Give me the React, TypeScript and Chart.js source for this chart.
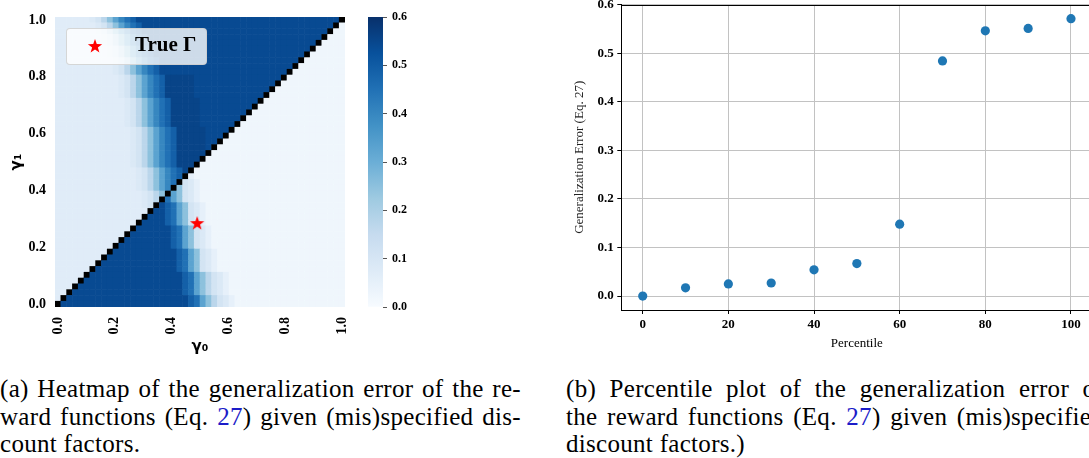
import React, { useEffect, useRef } from "react";
import { Chart, registerables } from "chart.js";

Chart.register(...registerables);

// ---------------- data: heatmap (generalization error vs. discount factors) ----------------
const GRID_N = 50;
const GAMMA_TICKS = [0.0, 0.2, 0.4, 0.6, 0.8, 1.0];
const ERROR_SCALE_TICKS = [0.0, 0.1, 0.2, 0.3, 0.4, 0.5, 0.6];
const ERROR_SCALE_MIN = 0.0;
const ERROR_SCALE_MAX = 0.6;
const TRUE_GAMMA0 = [0.49];
const TRUE_GAMMA1 = [0.285];
const LEVEL_CODES = ["0", "1", "2", "3", "4", "5", "6", "7", "8", "9", "A", "B", "C"];
const LEVEL_VALUES = [0.025, 0.05, 0.07, 0.085, 0.11, 0.17, 0.25, 0.33, 0.4, 0.45, 0.49, 0.54, 0.555];
const DIAGONAL_CODE = "#";
// rows from gamma1 = 1.0 (top) down to gamma1 = 0.0 (bottom); columns gamma0 = 0.0 -> 1.0
const HEAT_ROWS = [
  "2222223456 789ABBBBBB BBBBBBBBBB BBBBBBBBBB BBBBBBBBB#",
  "2222222345 6789ABBBBB BBBBBBBBBB BBBBBBBBBB BBBBBBBB#0",
  "2222222345 6789ABBBBB BBBBBBBBBB BBBBBBBBBB BBBBBBB#00",
  "2222222234 56789ABBBB BBBBBBBBBB BBBBBBBBBB BBBBBB#000",
  "2222222234 56789ABBBB BBBBBBBBBB BBBBBBBBBB BBBBB#0000",
  "2222222223 456789ABBB BBBBBBBBBB BBBBBBBBBB BBBB#00000",
  "2222222223 456789ABBB BBBBBBBBBB BBBBBBBBBB BBB#000000",
  "2222222222 3456789ABB BBBBBBBBBB BBBBBBBBBB BB#0000000",
  "2222222222 3456789ABB BBBBBBBBBB BBBBBBBBBB B#00000000",
  "2222222222 3456789ABB BBBBBBBBBB BBBBBBBBBB #000000000",
  "2222222222 23456789AC CCCCBBBBBB BBBBBBBBB# 0000000000",
  "2222222222 23456789AC CCCCBBBBBB BBBBBBBB#0 0000000000",
  "2222222222 23456789AC CCCCBBBBBB BBBBBBB#00 0000000000",
  "2222222222 23456789AC CCCCBBBBBB BBBBBB#000 0000000000",
  "2222222222 223456789A CCCCCBBBBB BBBBB#0000 0000000000",
  "2222222222 223456789A CCCCCBBBBB BBBB#00000 0000000000",
  "2222222222 223456789A CCCCCBBBBB BBB#000000 0000000000",
  "2222222222 223456789A CCCCCBBBBB BB#0000000 0000000000",
  "2222222222 223456789A CCCCCBBBBB B#00000000 0000000000",
  "2222222222 2223456789 ACCCCCBBBB #000000000 0000000000",
  "2222222222 2223456789 ACCCCCBBB# 0000000000 0000000000",
  "2222222222 2223456789 ACCCCCBB#0 0000000000 0000000000",
  "2222222222 2223456789 ACCCCCB#00 0000000000 0000000000",
  "2222222222 2223456789 ACCCCC#000 0000000000 0000000000",
  "2222222222 2223456789 ACCCC#0000 0000000000 0000000000",
  "2222222222 2223456789 ACCC#00000 0000000000 0000000000",
  "2222222222 2222345678 9AC#000000 0000000000 0000000000",
  "2222222222 2222345678 9A#1000000 0000000000 0000000000",
  "2222222222 2222345678 9#43100000 0000000000 0000000000",
  "2222222222 2222345678 #643100000 0000000000 0000000000",
  "2222222222 222223456# 7643100000 0000000000 0000000000",
  "2222222222 22222345#9 7643100000 0000000000 0000000000",
  "2222222222 2222234#BA 9764310000 0000000000 0000000000",
  "2222222222 222222#BBA 9764310000 0000000000 0000000000",
  "2222222222 22222#BBBA 9764310000 0000000000 0000000000",
  "2222222222 2222#BBBBA 9764310000 0000000000 0000000000",
  "2222222222 222#BBBBBB A976431000 0000000000 0000000000",
  "2222222222 22#BBBBBBB A976431000 0000000000 0000000000",
  "2222222222 2#BBBBBBBB A976431000 0000000000 0000000000",
  "2222222222 #BBBBBBBBB A976431000 0000000000 0000000000",
  "222222222# BBBBBBBBBB BA97643100 0000000000 0000000000",
  "22222222#B BBBBBBBBBB BA97643100 0000000000 0000000000",
  "2222222#BB BBBBBBBBBB BA97643100 0000000000 0000000000",
  "222222#BBB BBBBBBBBBB BA97643100 0000000000 0000000000",
  "22222#BBBB BBBBBBBBBB BBA9765431 0000000000 0000000000",
  "2222#BBBBB BBBBBBBBBB BBA9765431 0000000000 0000000000",
  "222#BBBBBB BBBBBBBBBB BBA9765431 0000000000 0000000000",
  "22#BBBBBBB BBBBBBBBBB BBA9765431 0000000000 0000000000",
  "2#BBBBBBBB BBBBBBBBBB BBBA976543 1000000000 0000000000",
  "#BBBBBBBBB BBBBBBBBBB BBBA976543 1000000000 0000000000",
];

// ---------------- data: percentile plot ----------------
const PERCENTILES = [0, 10, 20, 30, 40, 50, 60, 70, 80, 90, 100];
const GEN_ERROR = [0.0, 0.017, 0.025, 0.027, 0.054, 0.067, 0.148, 0.484, 0.546, 0.551, 0.571];
const PCT_TICKS = [0, 20, 40, 60, 80, 100];
const PCT_AXIS_MIN = -5;
const PCT_AXIS_MAX = 105;
const ERR_TICKS = [0.0, 0.1, 0.2, 0.3, 0.4, 0.5, 0.6];
const ERR_AXIS_MIN = -0.0286;
const ERR_AXIS_MAX = 0.6;

// ---------------- captions ----------------
type Seg = [string, boolean];
const CAPTION_A: Seg[][] = [
  [["(a) Heatmap of the generalization error of the re-", false]],
  [["ward functions (Eq. ", false], ["27", true], [") given (mis)specified dis-", false]],
  [["count factors.", false]],
];
const CAPTION_B: Seg[][] = [
  [["(b) Percentile plot of the generalization error of", false]],
  [["the reward functions (Eq. ", false], ["27", true], [") given (mis)specified", false]],
  [["discount factors.)", false]],
];

// ---------------- styles ----------------
const SERIF = "'Liberation Serif', 'Times New Roman', Times, serif";
const GREEK = "'DejaVu Sans', sans-serif";
const BLUES_STOPS = ["#f7fbff", "#deebf7", "#c6dbef", "#9ecae1", "#6baed6", "#4292c6", "#2171b5", "#08519c", "#08306b"];

function hexRgb(h: string) {
  const n = parseInt(h.slice(1), 16);
  return [(n >> 16) & 255, (n >> 8) & 255, n & 255];
}
function bluesColor(v: number) {
  const t = Math.min(1, Math.max(0, (v - ERROR_SCALE_MIN) / (ERROR_SCALE_MAX - ERROR_SCALE_MIN)));
  const p = t * (BLUES_STOPS.length - 1);
  const i = Math.min(BLUES_STOPS.length - 2, Math.floor(p));
  const f = p - i;
  const a = hexRgb(BLUES_STOPS[i]);
  const b = hexRgb(BLUES_STOPS[i + 1]);
  const c = a.map((x, k) => Math.round(x + (b[k] - x) * f));
  return `rgb(${c[0]},${c[1]},${c[2]})`;
}
function starPoints(cx: number, cy: number, R: number, r: number) {
  const pts: [number, number][] = [];
  for (let i = 0; i < 10; i++) {
    const ang = -Math.PI / 2 + (i * Math.PI) / 5;
    const rr = i % 2 === 0 ? R : r;
    pts.push([cx + rr * Math.cos(ang), cy + rr * Math.sin(ang)]);
  }
  return pts;
}
function makeStarCanvas(size: number, color: string) {
  const c = document.createElement("canvas");
  c.width = size;
  c.height = size;
  const g = c.getContext("2d")!;
  const pts = starPoints(size / 2, size / 2 + 0.5, size / 2 - 0.5, (size / 2 - 0.5) * 0.4);
  g.beginPath();
  pts.forEach(([x, y], i) => (i === 0 ? g.moveTo(x, y) : g.lineTo(x, y)));
  g.closePath();
  g.fillStyle = color;
  g.fill();
  return c;
}

const baseOptions = {
  responsive: false,
  animation: false,
  events: [],
  plugins: { legend: { display: false }, tooltip: { enabled: false } },
};

function HeatmapPanel() {
  const ref = useRef<HTMLCanvasElement>(null);
  useEffect(() => {
    const cells: { x: number; y: number }[] = [];
    const colors: string[] = [];
    HEAT_ROWS.forEach((row, r) => {
      const codes = row.replace(/\s+/g, "");
      const j = GRID_N - 1 - r;
      for (let k = 0; k < GRID_N; k++) {
        const code = codes.charAt(k);
        cells.push({ x: k / (GRID_N - 1), y: j / (GRID_N - 1) });
        colors.push(code === DIAGONAL_CODE ? "#000000" : bluesColor(LEVEL_VALUES[LEVEL_CODES.indexOf(code)]));
      }
    });
    const half = 0.5 / (GRID_N - 1);
    const tickFont = { family: SERIF, size: 14, weight: "bold" };
    const chart = new Chart(ref.current as any, {
      type: "scatter",
      data: {
        datasets: [
          {
            label: "True Γ",
            data: TRUE_GAMMA0.map((g0, i) => ({ x: g0, y: TRUE_GAMMA1[i] })),
            pointStyle: makeStarCanvas(16, "#ff0000"),
            pointRadius: 7,
            order: 0,
          },
          {
            label: "error",
            data: cells,
            pointStyle: "rect",
            pointBackgroundColor: colors,
            pointBorderWidth: 0,
            pointRadius: (ctx: any) => {
              const a = ctx.chart.chartArea;
              const w = a ? (a.right - a.left) / GRID_N : 5.8;
              return (w + 0.6) / Math.SQRT2;
            },
            order: 1,
          },
        ],
      },
      options: {
        ...baseOptions,
        layout: { padding: { left: 0, top: 17, right: 10, bottom: 0 } },
        scales: {
          x: {
            type: "linear",
            min: -half,
            max: 1 + half,
            afterBuildTicks: (s: any) => {
              s.ticks = GAMMA_TICKS.map((v) => ({ value: v }));
            },
            afterFit: (s: any) => {
              s.height = 53;
              s.paddingLeft = 0;
              s.paddingRight = 0;
            },
            ticks: {
              callback: (v: any) => Number(v).toFixed(1),
              font: tickFont,
              color: "#000",
              minRotation: 90,
              maxRotation: 90,
              padding: 10,
              autoSkip: false,
            },
            grid: { display: false, drawTicks: false },
            border: { display: false },
            title: {
              display: true,
              text: "γ₀",
              font: { family: GREEK, size: 15, weight: "bold" },
              color: "#000",
              padding: { top: 0, bottom: 4 },
            },
          },
          y: {
            type: "linear",
            min: -half,
            max: 1 + half,
            afterBuildTicks: (s: any) => {
              s.ticks = GAMMA_TICKS.map((v) => ({ value: v }));
            },
            afterFit: (s: any) => {
              s.width = 55;
              s.paddingTop = 0;
              s.paddingBottom = 0;
            },
            ticks: {
              callback: (v: any) => Number(v).toFixed(1),
              font: tickFont,
              color: "#000",
              padding: 9,
              autoSkip: false,
            },
            grid: { display: false, drawTicks: false },
            border: { display: false },
            title: {
              display: true,
              text: "γ₁",
              font: { family: GREEK, size: 15, weight: "bold" },
              color: "#000",
              padding: { top: 8, bottom: 0 },
            },
          },
        },
      } as any,
    });
    return () => chart.destroy();
  }, []);
  return (
    <canvas
      ref={ref}
      width={355}
      height={360}
      style={{ position: "absolute", left: 0, top: 0, width: 355, height: 360 }}
    />
  );
}

function ColorbarPanel() {
  const ref = useRef<HTMLCanvasElement>(null);
  useEffect(() => {
    const chart = new Chart(ref.current as any, {
      type: "bar",
      data: {
        labels: ["colorbar"],
        datasets: [
          {
            data: [[ERROR_SCALE_MIN, ERROR_SCALE_MAX]],
            backgroundColor: (ctx: any) => {
              const a = ctx.chart.chartArea;
              if (!a) return BLUES_STOPS[4];
              const g = ctx.chart.ctx.createLinearGradient(0, a.bottom, 0, a.top);
              BLUES_STOPS.forEach((c, i) => g.addColorStop(i / (BLUES_STOPS.length - 1), c));
              return g;
            },
            borderWidth: 0,
            barPercentage: 1,
            categoryPercentage: 1,
          },
        ],
      },
      options: {
        ...baseOptions,
        layout: { padding: { left: 13, top: 17, right: 0, bottom: 53 } },
        scales: {
          x: { display: false },
          y: {
            position: "right",
            min: ERROR_SCALE_MIN,
            max: ERROR_SCALE_MAX,
            afterBuildTicks: (s: any) => {
              s.ticks = ERROR_SCALE_TICKS.map((v) => ({ value: v }));
            },
            afterFit: (s: any) => {
              s.width = 62;
              s.paddingTop = 0;
              s.paddingBottom = 0;
            },
            ticks: {
              callback: (v: any) => Number(v).toFixed(1),
              font: { family: SERIF, size: 12, weight: "bold" },
              color: "#000",
              padding: 5,
            },
            grid: { drawOnChartArea: false, drawTicks: true, tickLength: 4, tickColor: "#555", tickWidth: 1 },
            border: { display: false },
          },
        },
      } as any,
    });
    return () => chart.destroy();
  }, []);
  return (
    <canvas
      ref={ref}
      width={90}
      height={360}
      style={{ position: "absolute", left: 355, top: 0, width: 90, height: 360 }}
    />
  );
}

function HeatLegend() {
  const pts = starPoints(8, 8.5, 7.5, 3).map((p) => p.join(",")).join(" ");
  return (
    <>
      <div
        style={{
          position: "absolute",
          left: 66,
          top: 28,
          width: 141,
          height: 37,
          boxSizing: "border-box",
          background: "rgba(255,255,255,0.8)",
          border: "1px solid rgba(204,204,204,0.8)",
          borderRadius: 4,
        }}
      />
      <svg style={{ position: "absolute", left: 87, top: 38 }} width={16} height={16}>
        <polygon points={pts} fill="#ff0000" />
      </svg>
      <div
        style={{
          position: "absolute",
          left: 135,
          top: 34,
          fontFamily: SERIF,
          fontWeight: "bold",
          fontSize: 21,
          lineHeight: "21px",
          whiteSpace: "nowrap",
          color: "#000",
        }}
      >
        True Γ
      </div>
    </>
  );
}

function PercentilePanel() {
  const ref = useRef<HTMLCanvasElement>(null);
  useEffect(() => {
    const framePlugin = {
      id: "frame",
      beforeDatasetsDraw(chart: any) {
        const { ctx, chartArea: a } = chart;
        ctx.save();
        ctx.strokeStyle = "#000";
        ctx.lineWidth = 1;
        ctx.beginPath();
        const top = Math.round(a.top) + 0.5;
        const right = Math.round(a.right) + 0.5;
        ctx.moveTo(a.left, top);
        ctx.lineTo(right, top);
        ctx.lineTo(right, a.bottom);
        ctx.stroke();
        ctx.restore();
      },
    };
    const tickFont = { family: SERIF, size: 13, weight: "bold" };
    const chart = new Chart(ref.current as any, {
      type: "scatter",
      data: {
        datasets: [
          {
            label: "Generalization Error",
            data: PERCENTILES.map((p, i) => ({ x: p, y: GEN_ERROR[i] })),
            pointBackgroundColor: "#1f77b4",
            pointBorderWidth: 0,
            pointRadius: 4.6,
          },
        ],
      },
      options: {
        ...baseOptions,
        layout: { padding: { left: 0, top: 3, right: 12.6, bottom: 0 } },
        scales: {
          x: {
            type: "linear",
            min: PCT_AXIS_MIN,
            max: PCT_AXIS_MAX,
            afterBuildTicks: (s: any) => {
              s.ticks = PCT_TICKS.map((v) => ({ value: v }));
            },
            afterFit: (s: any) => {
              s.height = 50;
              s.paddingLeft = 0;
              s.paddingRight = 0;
            },
            ticks: { callback: (v: any) => String(v), font: tickFont, color: "#000", padding: 3, maxRotation: 0 },
            grid: { color: "#c2c2c2", lineWidth: 1, drawTicks: true, tickLength: 4, tickColor: "#000", tickWidth: 1 },
            border: { display: true, color: "#000", width: 1 },
            title: {
              display: true,
              text: "Percentile",
              font: { family: SERIF, size: 13 },
              color: "#000",
              padding: { top: 0, bottom: 9 },
            },
          },
          y: {
            type: "linear",
            min: ERR_AXIS_MIN,
            max: ERR_AXIS_MAX,
            afterBuildTicks: (s: any) => {
              s.ticks = ERR_TICKS.map((v) => ({ value: v }));
            },
            afterFit: (s: any) => {
              s.width = 61.3;
              s.paddingTop = 0;
              s.paddingBottom = 0;
            },
            ticks: { callback: (v: any) => Number(v).toFixed(1), font: tickFont, color: "#000", padding: 3.5 },
            grid: { color: "#c2c2c2", lineWidth: 1, drawTicks: true, tickLength: 4, tickColor: "#000", tickWidth: 1 },
            border: { display: true, color: "#000", width: 1 },
            title: {
              display: true,
              text: "Generalization Error (Eq. 27)",
              font: { family: SERIF, size: 13 },
              color: "#222",
              padding: { top: 12, bottom: 0 },
            },
          },
        },
      } as any,
      plugins: [framePlugin],
    });
    return () => chart.destroy();
  }, []);
  return (
    <canvas
      ref={ref}
      width={545}
      height={360}
      style={{ position: "absolute", left: 560, top: 0, width: 545, height: 360 }}
    />
  );
}

function Caption({ left, width, lines }: { left: number; width: number; lines: Seg[][] }) {
  return (
    <div
      style={{
        position: "absolute",
        left,
        top: 375,
        width,
        fontFamily: SERIF,
        fontSize: 25,
        lineHeight: "27.5px",
        letterSpacing: "0.3px",
        color: "#000",
      }}
    >
      {lines.map((segs, i) => (
        <div
          key={i}
          style={{
            height: 27.5,
            textAlign: "justify",
            textAlignLast: i < lines.length - 1 ? "justify" : "left",
          } as any}
        >
          {segs.map(([t, link], k) => (
            <span key={k} style={link ? { color: "#1c1cc8" } : undefined}>
              {t}
            </span>
          ))}
        </div>
      ))}
    </div>
  );
}

export default function App() {
  return (
    <div
      style={{
        position: "absolute",
        left: 0,
        top: 0,
        width: 1089,
        height: 458,
        overflow: "hidden",
        background: "#fff",
      }}
    >
      <HeatmapPanel />
      <ColorbarPanel />
      <HeatLegend />
      <PercentilePanel />
      <Caption left={0} width={521} lines={CAPTION_A} />
      <Caption left={566} width={538} lines={CAPTION_B} />
    </div>
  );
}
